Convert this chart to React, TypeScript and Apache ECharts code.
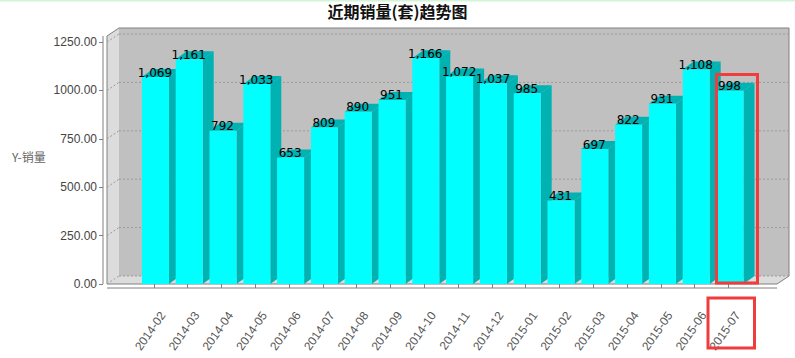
import React, { useEffect, useRef } from 'react';
import * as echarts from 'echarts';

const titleText = '近期销量(套)趋势图';
const yAxisName = 'Y-销量';
const categories = [
  '2014-02', '2014-03', '2014-04', '2014-05', '2014-06', '2014-07', '2014-08', '2014-09', '2014-10',
  '2014-11', '2014-12', '2015-01', '2015-02', '2015-03', '2015-04', '2015-05', '2015-06', '2015-07',
];
const sales = [1069, 1161, 792, 1033, 653, 809, 890, 951, 1166, 1072, 1037, 985, 431, 697, 822, 931, 1108, 998];
const yTicks = [0, 250, 500, 750, 1000, 1250];

const FRONT = '#00ffff';
const SHADE = '#00b2b2';
const BACK_WALL = '#c0c0c0';
const SIDE_WALL = '#dcdcdc';
const EDGE = '#808080';
const GRID_LINE = '#9a9a9a';
const RED = '#f03c3c';

// 3D depth offsets (px)
const BDX = 11, BDY = 8;
const WDX = 12, WDY = 8;
// plot frame (px)
const FL = 107, FR = 777, FT = 36, FB = 284;

function fmt(v: number) {
  return v.toLocaleString('en-US');
}

export default function App() {
  const ref = useRef<HTMLDivElement>(null);
  useEffect(() => {
    if (!ref.current) return;
    const chart = echarts.init(ref.current, null, { renderer: 'svg' });
    const option: any = {
      animation: false,
      backgroundColor: '#ffffff',
      title: {
        text: titleText,
        left: 'center',
        top: -2,
        textStyle: { fontSize: 16, fontWeight: 'bold', color: '#111', fontFamily: '"Noto Sans CJK SC", sans-serif' },
      },
      grid: [
        { left: 137, width: 608.4, top: 42, height: 242 },
        { left: 146, width: 608.4, top: 42, height: 242 },
      ],
      xAxis: [
        {
          type: 'category', gridIndex: 0, data: categories, offset: 4,
          axisLine: { show: false },
          axisTick: { show: true, alignWithLabel: true, length: 4, interval: 0, lineStyle: { color: EDGE } },
          axisLabel: { show: false },
          splitLine: { show: false },
        },
        {
          type: 'category', gridIndex: 1, data: categories, offset: 4,
          axisLine: { show: false },
          axisTick: { show: false },
          axisLabel: {
            show: true, rotate: 55, margin: 25, interval: 0, color: '#555',
            fontSize: 12, fontFamily: '"Liberation Sans", Arial, sans-serif',
          },
          splitLine: { show: false },
        },
      ],
      yAxis: [
        {
          type: 'value', gridIndex: 0, min: 0, max: 1250, interval: 250, offset: 34,
          axisLine: { show: false },
          axisTick: { show: true, length: 4, lineStyle: { color: EDGE } },
          axisLabel: {
            margin: 6, color: '#444', fontSize: 12, fontFamily: '"Liberation Sans", Arial, sans-serif',
            formatter: (v: number) => v.toFixed(2),
          },
          splitLine: { show: false },
        },
        { type: 'value', gridIndex: 1, min: 0, max: 1250, show: false },
      ],
      graphic: {
        elements: [
          { type: 'rect', z: 0, shape: { x: 0, y: 0, width: 795, height: 1.5 }, style: { fill: '#d2f5d8' } },
          // back wall
          { type: 'rect', z: 0, shape: { x: FL + WDX, y: FT - WDY, width: FR - FL, height: FB - FT }, style: { fill: BACK_WALL } },
          // left wall
          { type: 'polygon', z: 0, shape: { points: [[FL, FT], [FL + WDX, FT - WDY], [FL + WDX, FB - WDY], [FL, FB]] }, style: { fill: SIDE_WALL } },
          // floor
          { type: 'polygon', z: 0, shape: { points: [[FL, FB], [FL + WDX, FB - WDY], [FR + WDX, FB - WDY], [FR, FB]] }, style: { fill: SIDE_WALL } },
          // outline
          {
            type: 'polyline', z: 0,
            shape: { points: [[FL, FB], [FL, FT], [FL + WDX, FT - WDY], [FR + WDX, FT - WDY], [FR + WDX, FB - WDY], [FR, FB], [FL, FB]] },
            style: { fill: null, stroke: EDGE, lineWidth: 1 },
          },
          // axis lines
          { type: 'line', z: 5, shape: { x1: 103, y1: FT, x2: 103, y2: FB }, style: { stroke: EDGE, lineWidth: 1 } },
          { type: 'line', z: 5, shape: { x1: FL, y1: FB + 4, x2: FR, y2: FB + 4 }, style: { stroke: EDGE, lineWidth: 1 } },
          // y axis name
          {
            type: 'text', z: 5, x: 12, y: 156,
            style: { text: yAxisName, fill: '#666', font: '12px "Noto Sans CJK SC", sans-serif', verticalAlign: 'middle', align: 'left' },
          },
          // annotations
          { type: 'rect', z: 100, shape: { x: 716.5, y: 74.5, width: 41, height: 208.5 }, style: { fill: null, stroke: RED, lineWidth: 3 } },
          { type: 'rect', z: 100, shape: { x: 708, y: 298, width: 46.5, height: 50 }, style: { fill: null, stroke: RED, lineWidth: 3 } },
        ],
      },
      series: [
        {
          type: 'custom', z: 1, xAxisIndex: 0, yAxisIndex: 0, silent: true,
          data: yTicks.map((v) => [0, v]),
          renderItem: (params: any, api: any) => {
            const y = api.coord([0, api.value(1)])[1];
            return {
              type: 'group',
              children: [
                { type: 'line', shape: { x1: FL + WDX, y1: y - WDY, x2: FR + WDX, y2: y - WDY }, style: { stroke: GRID_LINE, lineWidth: 1, lineDash: [2, 2] } },
                { type: 'line', shape: { x1: FL, y1: y, x2: FL + WDX, y2: y - WDY }, style: { stroke: GRID_LINE, lineWidth: 1, lineDash: [2, 2] } },
              ],
            };
          },
        },
        {
          type: 'custom', z: 3, xAxisIndex: 0, yAxisIndex: 0, silent: true,
          data: sales.map((v, i) => [i, v]),
          renderItem: (params: any, api: any) => {
            const i = api.value(0);
            const v = api.value(1);
            const [cx, yt] = api.coord([i, v]);
            const y0 = api.coord([i, 0])[1];
            const l = cx - 12, r = cx + 15;
            return {
              type: 'group',
              children: [
                { type: 'polygon', shape: { points: [[r, yt], [r + BDX, yt - BDY], [r + BDX, y0 - BDY], [r, y0]] }, style: { fill: SHADE } },
                { type: 'polygon', shape: { points: [[l, yt], [l + BDX, yt - BDY], [r + BDX, yt - BDY], [r, yt]] }, style: { fill: SHADE } },
                { type: 'rect', shape: { x: l, y: yt, width: r - l, height: y0 - yt }, style: { fill: FRONT } },
              ],
            };
          },
        },
        {
          type: 'custom', z: 4, xAxisIndex: 0, yAxisIndex: 0, silent: true,
          data: sales.map((v, i) => [i, v]),
          renderItem: (params: any, api: any) => {
            const i = api.value(0);
            const v = api.value(1);
            const [cx, yt] = api.coord([i, v]);
            return {
              type: 'text',
              style: {
                text: fmt(v), x: cx + 1, y: yt + 1.5, align: 'center', verticalAlign: 'bottom',
                fill: '#000', font: '12px "DejaVu Sans", sans-serif',
              },
            };
          },
        },
      ],
    };
    chart.setOption(option);
    return () => chart.dispose();
  }, []);
  return <div ref={ref} style={{ position: 'absolute', left: 0, top: 0, width: 795, height: 358, background: '#fff' }} />;
}
